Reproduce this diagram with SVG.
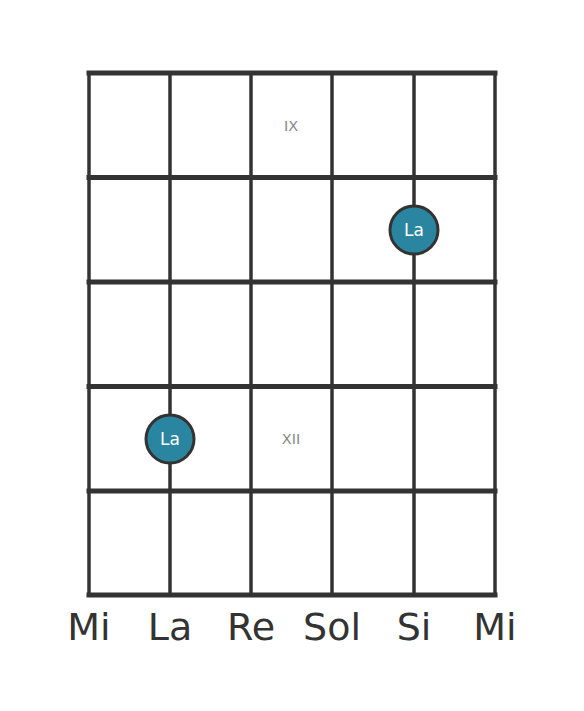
<svg xmlns="http://www.w3.org/2000/svg" width="584" height="711" viewBox="0 0 584 711">
<style>
.fret{stroke:#333;stroke-width:5;stroke-linecap:square}
.str{stroke:#333;stroke-width:3.5}
.note circle{fill:#2a86a0;stroke:#333;stroke-width:3}
.note text{fill:#fff;font-family:"DejaVu Sans",sans-serif;font-size:17px;text-anchor:middle;dominant-baseline:central}
.pos{fill:#888;font-family:"DejaVu Sans",sans-serif;font-size:14.5px;text-anchor:middle;dominant-baseline:central}
.lab{fill:#333;font-family:"DejaVu Sans",sans-serif;font-size:38px;text-anchor:middle}
</style>
<rect width="584" height="711" fill="#fff"/>
<g id="grid">
<line class="str" x1="89" y1="73" x2="89" y2="595"/>
<line class="str" x1="170" y1="73" x2="170" y2="595"/>
<line class="str" x1="251" y1="73" x2="251" y2="595"/>
<line class="str" x1="332" y1="73" x2="332" y2="595"/>
<line class="str" x1="414" y1="73" x2="414" y2="595"/>
<line class="str" x1="495" y1="73" x2="495" y2="595"/>
<line class="fret" x1="89" y1="73" x2="495" y2="73"/>
<line class="fret" x1="89" y1="177.5" x2="495" y2="177.5"/>
<line class="fret" x1="89" y1="282" x2="495" y2="282"/>
<line class="fret" x1="89" y1="386.5" x2="495" y2="386.5"/>
<line class="fret" x1="89" y1="491" x2="495" y2="491"/>
<line class="fret" x1="89" y1="595" x2="495" y2="595"/>
</g>
<text class="pos" x="291" y="126">IX</text>
<text class="pos" x="291" y="439">XII</text>
<g id="note1" class="note"><circle cx="414" cy="230" r="24"/><text x="414" y="230">La</text></g>
<g id="note2" class="note"><circle cx="170" cy="439" r="24"/><text x="170" y="439">La</text></g>
<g id="labels">
<text class="lab" x="89" y="640">Mi</text>
<text class="lab" x="170" y="640">La</text>
<text class="lab" x="251" y="640">Re</text>
<text class="lab" x="332" y="640">Sol</text>
<text class="lab" x="414" y="640">Si</text>
<text class="lab" x="495" y="640">Mi</text>
</g>
</svg>
